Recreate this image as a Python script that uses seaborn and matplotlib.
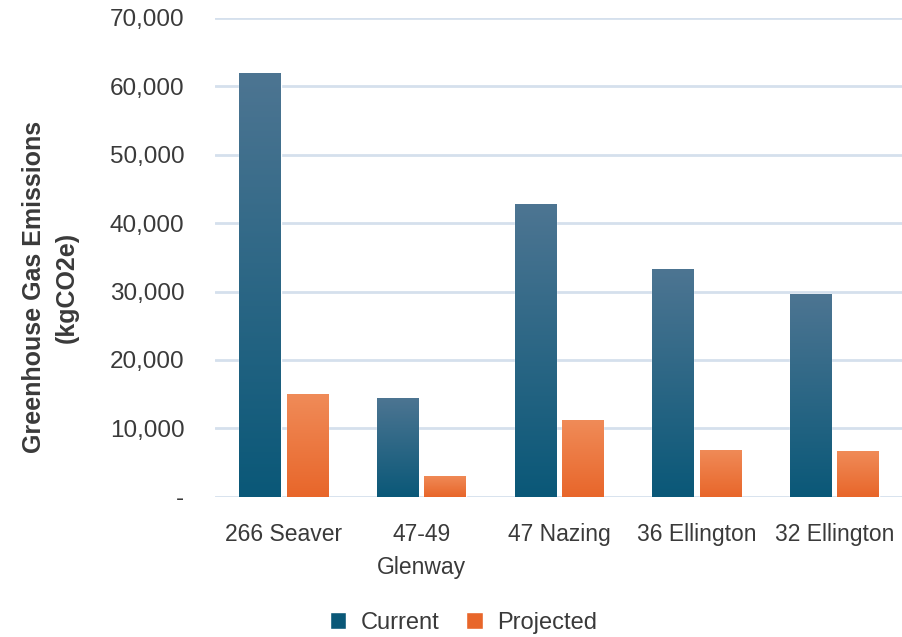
import numpy as np
import pandas as pd
import matplotlib
matplotlib.use("Agg")
import matplotlib.pyplot as plt
import seaborn as sns
from matplotlib.colors import LinearSegmentedColormap
from matplotlib.patches import Patch

categories = ["266 Seaver", "47-49\nGlenway", "47 Nazing", "36 Ellington", "32 Ellington"]
current = [62000, 14500, 42800, 33300, 29600]
projected = [15000, 3100, 11200, 6900, 6700]
series = ["Current", "Projected"]
yticks = [0, 10000, 20000, 30000, 40000, 50000, 60000, 70000]
ytick_labels = ["-", "10,000", "20,000", "30,000", "40,000", "50,000", "60,000", "70,000"]

df = pd.DataFrame({
    "Building": categories * 2,
    "Value": current + projected,
    "Series": [series[0]] * len(categories) + [series[1]] * len(categories),
})

sns.set_theme(style="white")
plt.rcParams["font.family"] = ["Liberation Sans", "DejaVu Sans"]

base_colors = {"Current": "#1a5f80", "Projected": "#ec6e35"}
grad = {
    "Current": ("#4d7592", "#0a5878"),
    "Projected": ("#f08b58", "#e8662a"),
}

fig = plt.figure(figsize=(9.03, 6.37), dpi=100)
ax = fig.add_axes([0.238, 0.22, 0.762, 0.752])

sns.barplot(data=df, x="Building", y="Value", hue="Series", palette=base_colors,
            width=0.69, gap=0.13, ax=ax, legend=False, saturation=1)

ax.set_yticks(yticks)
ax.set_yticklabels(ytick_labels)
ax.grid(axis="y", color="#d5e0ed", linewidth=2)
ax.set_axisbelow(True)
for s in ax.spines.values():
    s.set_visible(False)

# gradient fill on bars
for container, name in zip(ax.containers, series):
    cmap = LinearSegmentedColormap.from_list(name, [grad[name][1], grad[name][0]])
    for bar in container:
        x0, y0 = bar.get_x(), bar.get_y()
        w, h = bar.get_width(), bar.get_height()
        gimg = np.linspace(0, 1, 256).reshape(-1, 1)
        im = ax.imshow(gimg, cmap=cmap, origin="lower", aspect="auto",
                       extent=[x0, x0 + w, y0, y0 + h], zorder=bar.get_zorder() + 0.1)
        im.set_clip_path(bar)
ax.set_xlim(-0.5, 4.5)
ax.set_ylim(0, 70000)

ax.tick_params(axis="y", length=0, labelsize=17.5, pad=22)
ax.tick_params(axis="x", length=0, labelsize=16.5, pad=19)
for lbl in ax.get_xticklabels() + ax.get_yticklabels():
    lbl.set_color("#3a3a3a")
for lbl in ax.get_xticklabels():
    lbl.set_linespacing(1.55)
ax.set_xlabel("")
ax.set_ylabel("Greenhouse Gas Emissions\n(kgCO2e)", fontsize=18, fontweight="bold",
              color="#3a3a3a", linespacing=1.45)
ax.yaxis.set_label_coords(-0.2805, 0.438)
ax.yaxis.label.set_horizontalalignment("center")
ax.yaxis.label.set_verticalalignment("top")

handles = [Patch(facecolor=grad[s][1], label=s) for s in series]
fig.legend(handles=handles, loc="center", bbox_to_anchor=(0.513, 0.022), ncol=2,
           frameon=False, fontsize=17, handlelength=0.7, handleheight=0.7,
           handletextpad=0.6, columnspacing=1.15, labelcolor="#3a3a3a")

fig.savefig("out.png", dpi=100, facecolor="white")
